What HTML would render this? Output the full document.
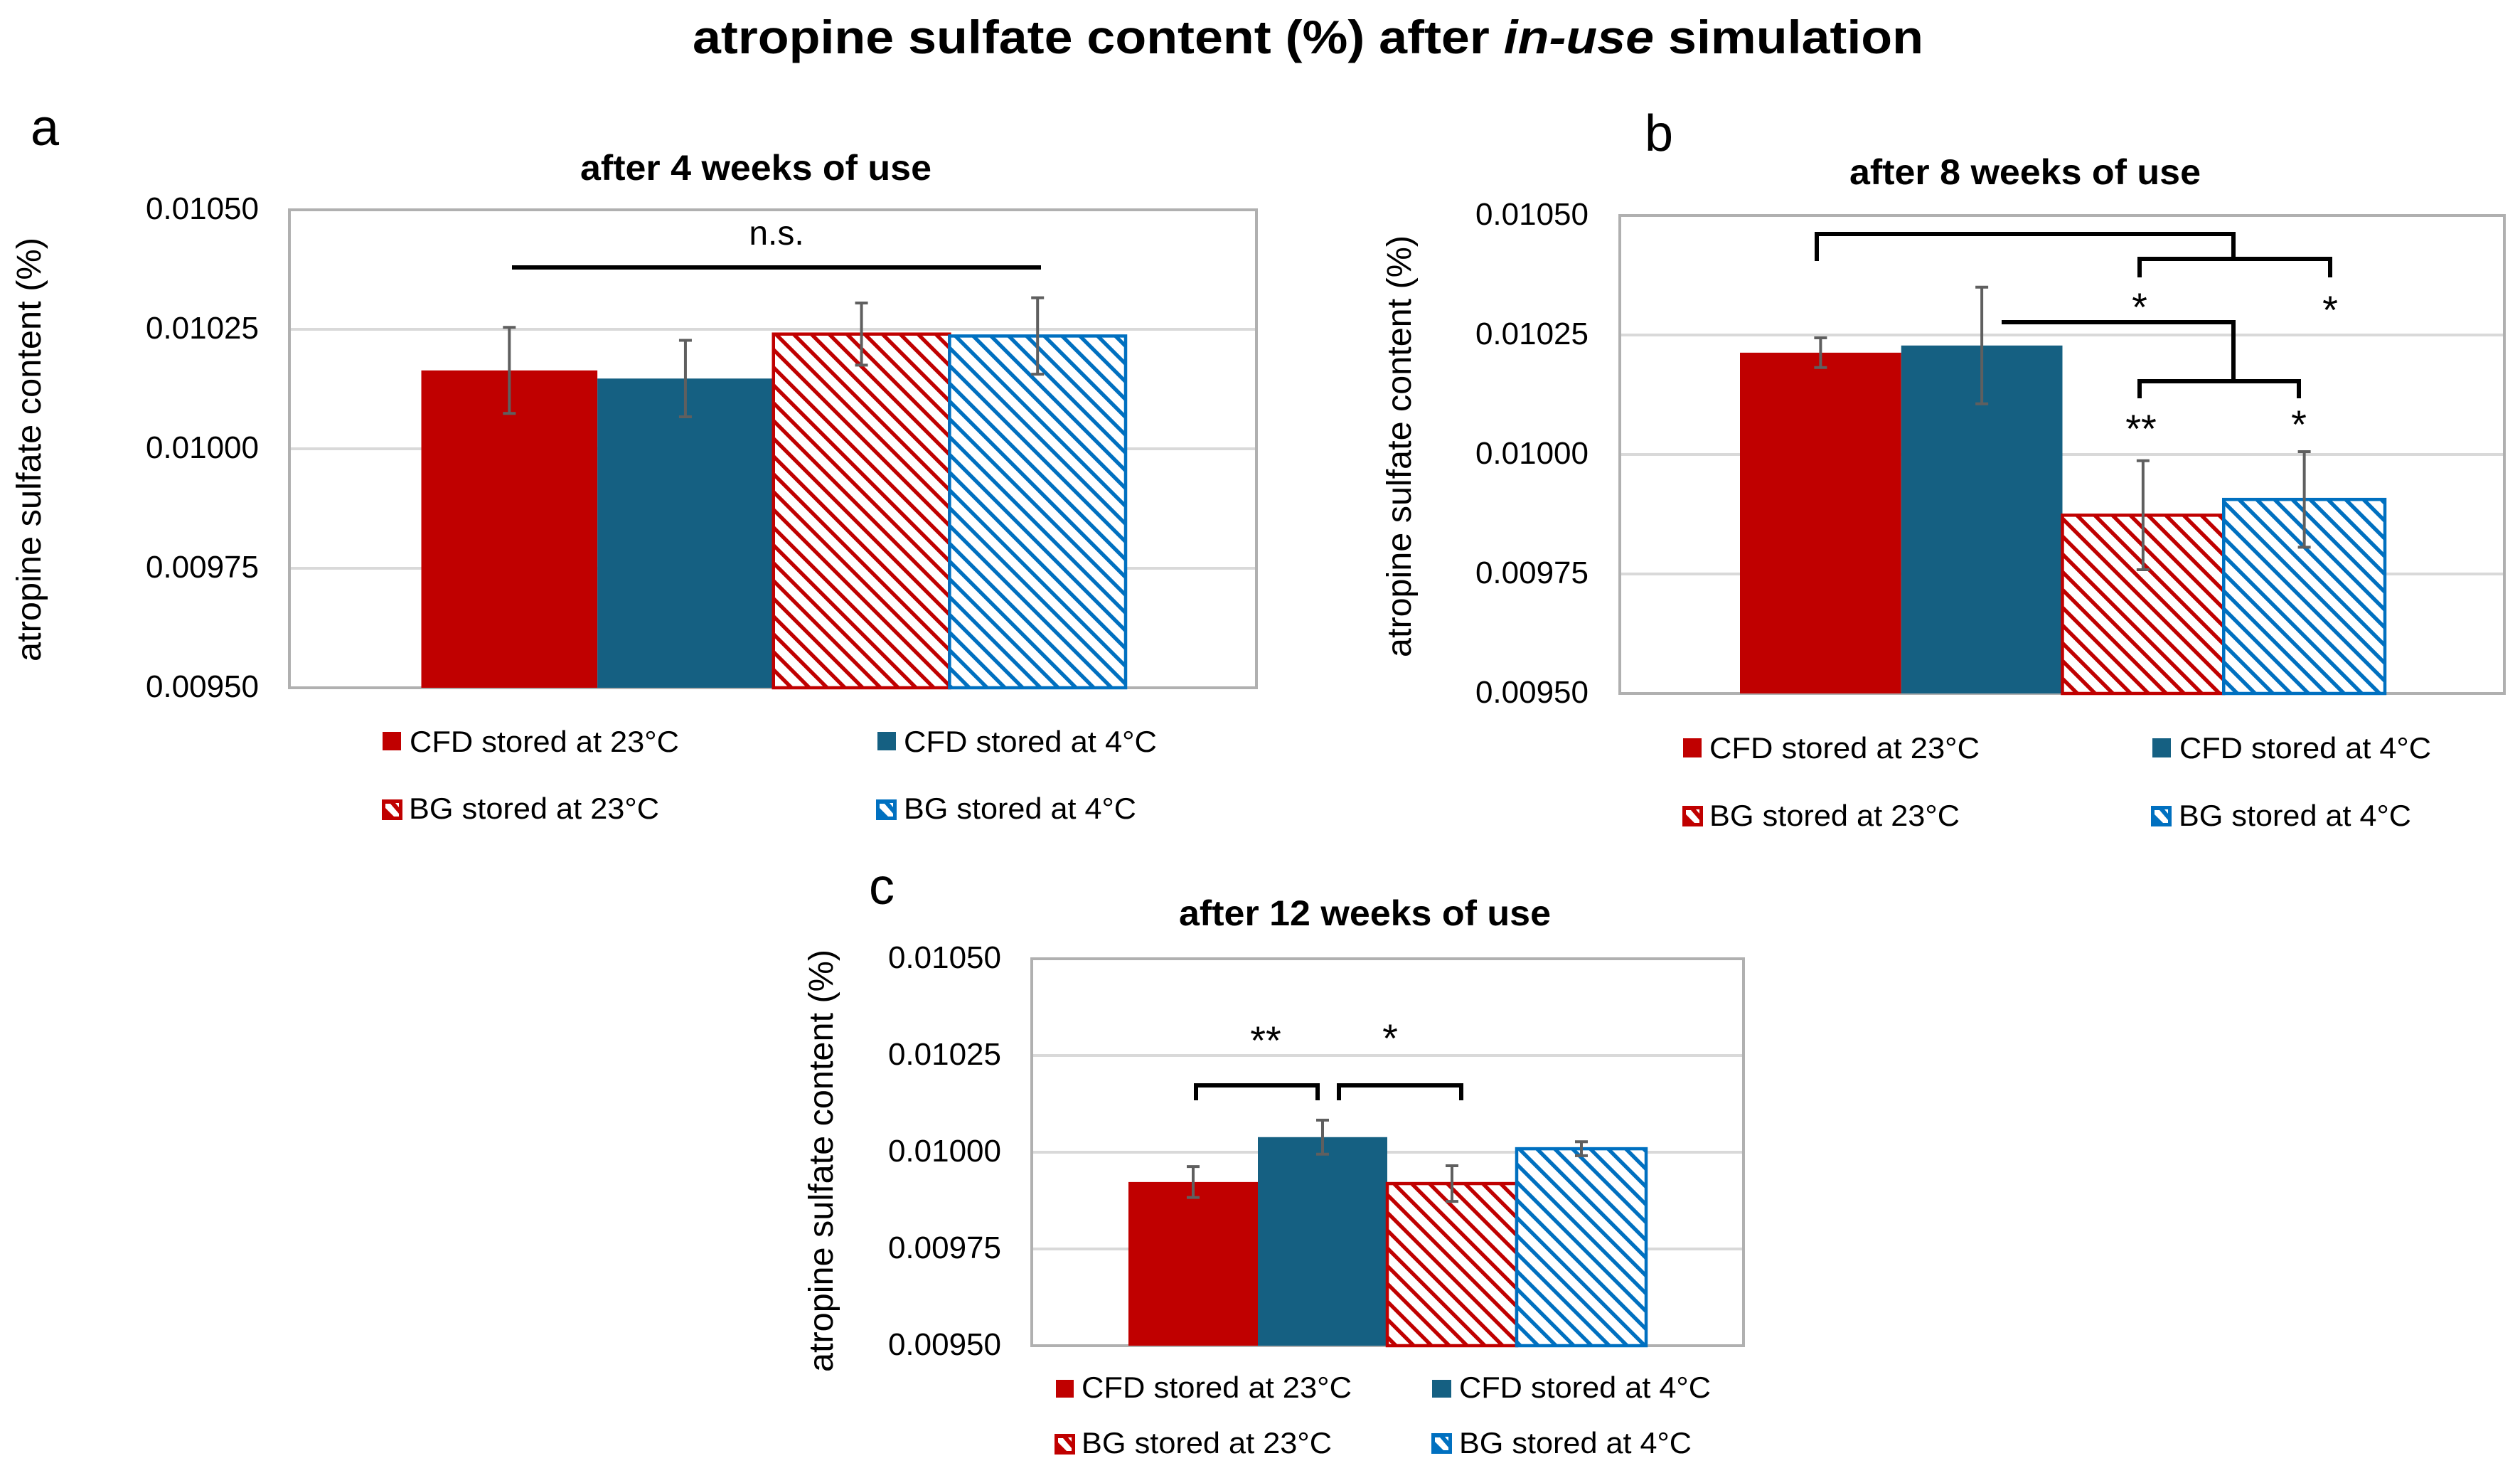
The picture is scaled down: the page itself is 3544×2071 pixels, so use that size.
<!DOCTYPE html>
<html lang="en">
<head>
<meta charset="utf-8">
<title>atropine sulfate content (%) after in-use simulation</title>
<style>
html,body{margin:0;padding:0;background:#fff;}
svg{display:block;}
text{font-family:"Liberation Sans",sans-serif;fill:#000;}
</style>
</head>
<body>
<svg id="figure" xmlns="http://www.w3.org/2000/svg" width="3544" height="2071" viewBox="0 0 3544 2071">
  <defs>
    <pattern id="hatch-red" patternUnits="userSpaceOnUse" width="17.68" height="17.68" patternTransform="rotate(45)">
      <rect width="17.68" height="17.68" fill="#fff"/>
      <rect width="17.68" height="5.4" fill="#C00000"/>
    </pattern>
    <pattern id="hatch-blue" patternUnits="userSpaceOnUse" width="17.68" height="17.68" patternTransform="rotate(45)">
      <rect width="17.68" height="17.68" fill="#fff"/>
      <rect width="17.68" height="5.4" fill="#0070C0"/>
    </pattern>
    <g id="swatch-red">
      <rect x="2" y="2" width="25" height="25" fill="#C00000" stroke="#C00000" stroke-width="4"/>
      <path d="M5 6H12L24 20V24H17L5 12Z M19 5H24V11Z" fill="#fff"/>
    </g>
    <g id="swatch-blue">
      <rect x="2" y="2" width="25" height="25" fill="#0070C0" stroke="#0070C0" stroke-width="4"/>
      <path d="M5 6H12L24 20V24H17L5 12Z M19 5H24V11Z" fill="#fff"/>
    </g>
  </defs>

  <text x="974" y="75" font-size="66" font-weight="700" textLength="1731" lengthAdjust="spacingAndGlyphs">atropine sulfate content (%) after <tspan font-style="italic">in-use</tspan> simulation</text>

  <text x="43" y="204" font-size="72">a</text>
  <text x="2313" y="212" font-size="72">b</text>
  <text x="1222" y="1271" font-size="72">c</text>

  <g id="chart-a"></g>
  <g id="chart-b"></g>
  <g id="chart-c"></g>

  <g>
    <path d="M720 376H1464" fill="none" stroke="#000" stroke-width="6"/>
    <text x="1092" y="344" font-size="48" text-anchor="middle">n.s.</text>
  </g>

  <g fill="none" stroke="#000" stroke-width="6">
    <path d="M2555 367V329H3141V363"/>
    <path d="M3009 390V364H3277V390"/>
    <path d="M2815 453H3141V536"/>
    <path d="M3009 560V536H3233V560"/>
  </g>
  <text x="3009" y="451" font-size="56" text-anchor="middle">*</text>
  <text x="3277" y="455" font-size="56" text-anchor="middle">*</text>
  <text x="3011" y="622" font-size="56" text-anchor="middle">**</text>
  <text x="3233" y="616" font-size="56" text-anchor="middle">*</text>

  <g fill="none" stroke="#000" stroke-width="6">
    <path d="M1682 1547V1526H1853V1547"/>
    <path d="M1883 1547V1526H2055V1547"/>
  </g>
  <text x="1780" y="1482" font-size="56" text-anchor="middle">**</text>
  <text x="1955" y="1479" font-size="56" text-anchor="middle">*</text>

  <g font-size="42">
    <rect x="538" y="1029" width="26" height="26" fill="#C00000"/>
    <text x="576" y="1057" font-size="42" textLength="379" lengthAdjust="spacingAndGlyphs">CFD stored at 23°C</text>
    <rect x="1234" y="1029" width="26" height="26" fill="#156082"/>
    <text x="1271" y="1057" font-size="42" textLength="356" lengthAdjust="spacingAndGlyphs">CFD stored at 4°C</text>
    <use href="#swatch-red" x="537" y="1124"/>
    <text x="575" y="1151" font-size="42" textLength="352" lengthAdjust="spacingAndGlyphs">BG stored at 23°C</text>
    <use href="#swatch-blue" x="1232" y="1124"/>
    <text x="1271" y="1151" font-size="42" textLength="327" lengthAdjust="spacingAndGlyphs">BG stored at 4°C</text>
  </g>

  <g>
    <rect x="2367" y="1038" width="26" height="27" fill="#C00000"/>
    <text x="2404" y="1066" font-size="42" textLength="380" lengthAdjust="spacingAndGlyphs">CFD stored at 23°C</text>
    <rect x="3027" y="1038" width="26" height="27" fill="#156082"/>
    <text x="3065" y="1066" font-size="42" textLength="354" lengthAdjust="spacingAndGlyphs">CFD stored at 4°C</text>
    <use href="#swatch-red" x="2366" y="1133"/>
    <text x="2404" y="1161" font-size="42" textLength="352" lengthAdjust="spacingAndGlyphs">BG stored at 23°C</text>
    <use href="#swatch-blue" x="3025" y="1133"/>
    <text x="3064" y="1161" font-size="42" textLength="327" lengthAdjust="spacingAndGlyphs">BG stored at 4°C</text>
  </g>

  <g>
    <rect x="1485" y="1940" width="25" height="25" fill="#C00000"/>
    <text x="1521" y="1965" font-size="42" textLength="380" lengthAdjust="spacingAndGlyphs">CFD stored at 23°C</text>
    <rect x="2014" y="1940" width="27" height="25" fill="#156082"/>
    <text x="2052" y="1965" font-size="42" textLength="354" lengthAdjust="spacingAndGlyphs">CFD stored at 4°C</text>
    <use href="#swatch-red" x="1483" y="2016"/>
    <text x="1521" y="2043" font-size="42" textLength="352" lengthAdjust="spacingAndGlyphs">BG stored at 23°C</text>
    <use href="#swatch-blue" x="2013" y="2015"/>
    <text x="2052" y="2043" font-size="42" textLength="327" lengthAdjust="spacingAndGlyphs">BG stored at 4°C</text>
  </g>
</svg>

<script>
const categories = ['CFD stored at 23°C', 'CFD stored at 4°C', 'BG stored at 23°C', 'BG stored at 4°C'];
const categorySlugs = ['cfd-23', 'cfd-4', 'bg-23', 'bg-4'];
const yTicks = [0.0095, 0.00975, 0.01, 0.01025, 0.0105];
const yTickLabels = ['0.00950', '0.00975', '0.01000', '0.01025', '0.01050'];
const week4Values = [0.010164, 0.010147, 0.010240, 0.010236];
const week4Errors = [0.000090, 0.000080, 0.000065, 0.000080];
const week8Values = [0.010213, 0.010228, 0.009873, 0.009906];
const week8Errors = [0.000031, 0.000122, 0.000114, 0.000100];
const week12Values = [0.009923, 0.010039, 0.009919, 0.010009];
const week12Errors = [0.000040, 0.000044, 0.000046, 0.000018];

const yMin = yTicks[0];
const yMax = yTicks[yTicks.length - 1];
const SVG_NS = 'http://www.w3.org/2000/svg';
const fills = ['#C00000', '#156082', 'url(#hatch-red)', 'url(#hatch-blue)'];
const strokes = [null, null, '#C00000', '#0070C0'];

const panels = [
  { id: 'chart-a', slug: '4-weeks', title: 'after 4 weeks of use', values: week4Values, errors: week4Errors,
    left: 407, top: 295, right: 1767, bottom: 967, barLeft: 592.5, barRight: 1583,
    titleX: 816, titleY: 253, titleW: 494, tickRight: 364, axisBase: 57, axisStart: 930, axisLen: 596 },
  { id: 'chart-b', slug: '8-weeks', title: 'after 8 weeks of use', values: week8Values, errors: week8Errors,
    left: 2278, top: 303, right: 3522, bottom: 975, barLeft: 2447, barRight: 3354,
    titleX: 2601, titleY: 259, titleW: 494, tickRight: 2234, axisBase: 1984, axisStart: 924, axisLen: 593 },
  { id: 'chart-c', slug: '12-weeks', title: 'after 12 weeks of use', values: week12Values, errors: week12Errors,
    left: 1451, top: 1348, right: 2452, bottom: 1892, barLeft: 1587, barRight: 2315,
    titleX: 1658, titleY: 1301, titleW: 523, tickRight: 1408, axisBase: 1171, axisStart: 1929, axisLen: 594 }
];

function svgEl(tag, parent) {
  const el = document.createElementNS(SVG_NS, tag);
  parent.appendChild(el);
  return el;
}

function setAll(el, props) {
  Object.keys(props).forEach(function (k) { el.setAttribute(k, props[k]); });
  return el;
}

function drawPanel(p) {
  const root = document.getElementById(p.id);
  const yScale = function (v) { return p.bottom - (v - yMin) / (yMax - yMin) * (p.bottom - p.top); };
  const band = (p.barRight - p.barLeft) / categories.length;
  const xScale = function (i) { return p.barLeft + i * band; };

  const title = svgEl('text', root);
  
  
  setAll(title, { x: p.titleX, y: p.titleY, 'font-size': 50, 'font-weight': 700, textLength: p.titleW, lengthAdjust: 'spacingAndGlyphs' });
  title.textContent = p.title;

  const axisTitle = svgEl('text', root);
  
  
  setAll(axisTitle, { transform: 'translate(' + p.axisBase + ' ' + p.axisStart + ') rotate(-90)', 'font-size': 48, textLength: p.axisLen, lengthAdjust: 'spacingAndGlyphs' });
  axisTitle.textContent = 'atropine sulfate content (%)';

  const plotBg = svgEl('rect', root);
  
  
  setAll(plotBg, { x: p.left, y: p.top, width: p.right - p.left, height: p.bottom - p.top, fill: '#fff', stroke: '#B0B0B0', 'stroke-width': 4 });

  yTicks.forEach(function (tick, i) {
    if (i > 0 && i < yTicks.length - 1) {
      const grid = svgEl('line', root);
      
      
      setAll(grid, { x1: p.left + 2, x2: p.right - 2, y1: yScale(tick), y2: yScale(tick), stroke: '#D9D9D9', 'stroke-width': 4 });
    }
    const label = svgEl('text', root);
    
    
    setAll(label, { x: p.tickRight, y: yScale(tick) + 13, 'font-size': 44, 'text-anchor': 'end' });
    label.textContent = yTickLabels[i];
  });

  p.values.forEach(function (value, i) {
    const bar = svgEl('rect', root);
    
    
    const top = yScale(value);
    setAll(bar, { x: xScale(i), y: top, width: band, height: p.bottom - top, fill: fills[i] });
    if (strokes[i]) {
      setAll(bar, { stroke: strokes[i], 'stroke-width': 4.5 });
    }
    const title2 = svgEl('title', bar);
    title2.textContent = categories[i];
  });

  p.values.forEach(function (value, i) {
    const cx = xScale(i) + band / 2;
    const hi = yScale(value + p.errors[i]);
    const lo = yScale(value - p.errors[i]);
    const eb = svgEl('path', root);
    
    
    setAll(eb, { d: 'M' + (cx - 9) + ' ' + hi + 'H' + (cx + 9) + 'M' + cx + ' ' + hi + 'V' + lo + 'M' + (cx - 9) + ' ' + lo + 'H' + (cx + 9), fill: 'none', stroke: '#5F5F5F', 'stroke-width': 4 });
  });
}

panels.forEach(drawPanel);
</script>
</body>
</html>
